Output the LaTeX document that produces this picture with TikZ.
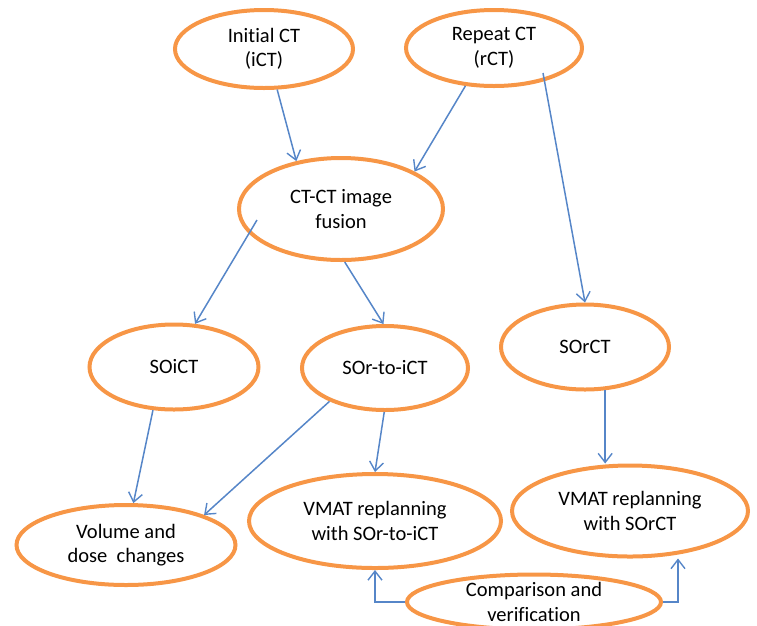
\documentclass[tikz,border=0pt]{standalone}
\usepackage{fontspec}
\setmainfont{Carlito}[Ligatures=NoCommon]
\usetikzlibrary{shapes.geometric,arrows.meta}
\definecolor{ellorange}{RGB}{247,150,70}
\definecolor{arrblue}{RGB}{86,134,200}
\tikzset{
  oval/.style={ellipse, draw=ellorange, line width=4pt, inner sep=0pt, align=center,
    font=\fontsize{20.5}{24.5}\selectfont},
  arr/.style={draw=arrblue, line width=1.5pt, -{Straight Barb[length=9pt,width=14pt,line width=1.4pt]}}
}
\begin{document}
\begin{tikzpicture}[x=1pt,y=-1pt]
\useasboundingbox (0,0) rectangle (757,625);
\clip (0,0) rectangle (757,625);
\node[oval, minimum width=178, minimum height=78] (ict) at (264,49) {Initial CT\\(iCT)};
\node[oval, minimum width=176, minimum height=76] (rct) at (494,48) {Repeat CT\\(rCT)};
\node[oval, minimum width=204, minimum height=102] (fusion) at (341,209) {CT-CT image\\fusion};
\node[oval, minimum width=169, minimum height=85] (soict) at (174,367) {SOiCT};
\node[oval, minimum width=166, minimum height=84] (sor) at (385,368) {SOr-to-iCT};
\node[oval, minimum width=168, minimum height=85] (sorct) at (585,347) {SOrCT};
\node[oval, minimum width=219, minimum height=80] (vol) at (126,545) {Volume and\\dose\ \ changes};
\node[oval, minimum width=252, minimum height=94] (vmat1) at (375,521) {VMAT replanning\\with SOr-to-iCT};
\node[oval, minimum width=236, minimum height=91] (vmat2) at (630,511) {VMAT replanning\\with SOrCT};
\node[oval, minimum width=254, minimum height=48] (comp) at (534,602) {Comparison and\\verification};

\draw[arr] (ict.-72) -- (fusion.133);
\draw[arr] (rct.-127) -- (fusion.27);
\draw[arr] ([shift={(49,25)}]rct.center) -- (sorct.north);
\draw[arr] ([shift={(-84,11)}]fusion.center) -- (soict.64);
\draw[arr] (fusion.-86) -- (sor.92);
\draw[arr] (soict.-116) -- (vol.80);
\draw[arr] (sor.-149) -- (vol.21);
\draw[arr] (sor.-91) -- (vmat1.north);
\draw[arr] (sorct.-65) -- (vmat2.north -| sorct.-65);
\draw[arr] (comp.west) -| (vmat1.south);
\draw[arr] (comp.east) -| ([xshift=48]vmat2.south);
\end{tikzpicture}
\end{document}
